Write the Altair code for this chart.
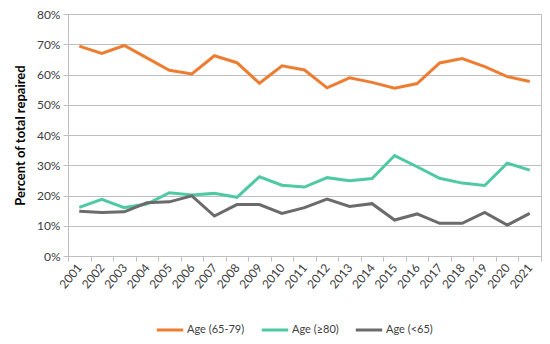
import altair as alt
import pandas as pd

years = [str(y) for y in range(2001, 2022)]
age_65_79 = [69.4, 67.0, 69.6, 65.5, 61.4, 60.2, 66.2, 63.9, 57.1, 62.9, 61.5,
             55.6, 58.9, 57.4, 55.5, 57.0, 63.8, 65.3, 62.6, 59.3, 57.7]
age_80 = [16.1, 18.7, 16.0, 17.2, 20.9, 20.2, 20.7, 19.4, 26.2, 23.4, 22.8,
          25.9, 24.9, 25.6, 33.2, 29.5, 25.7, 24.1, 23.3, 30.7, 28.4]
age_lt65 = [14.8, 14.4, 14.6, 17.6, 17.9, 19.9, 13.2, 17.0, 17.0, 14.1, 16.0,
            18.8, 16.4, 17.3, 11.9, 13.9, 10.8, 10.8, 14.4, 10.2, 14.1]

series_names = ["Age (65-79)", "Age (≥80)", "Age (<65)"]
series_values = [age_65_79, age_80, age_lt65]
colors = ["#ED7D31", "#4FC9A4", "#6B6B6B"]

rows = []
for name, vals in zip(series_names, series_values):
    for y, v in zip(years, vals):
        rows.append({"Year": y, "Series": name, "Value": v / 100})
df = pd.DataFrame(rows)

font = "Lato"
txt = "#404040"
grid = "#BFBFBF"

chart = alt.Chart(df).mark_line(strokeWidth=3).encode(
    x=alt.X("Year:O", sort=years,
            scale=alt.Scale(paddingInner=0, paddingOuter=0),
            axis=alt.Axis(title=None, labelAngle=-50, tickBand="extent",
                          labelAlign="right", labelBaseline="middle",
                          labelFont=font, labelFontSize=12, labelColor=txt,
                          domainColor=grid, tickColor=grid, tickSize=5,
                          labelPadding=4, grid=False)),
    y=alt.Y("Value:Q",
            scale=alt.Scale(domain=[0, 0.8]),
            axis=alt.Axis(title="Percent of total repaired", format=".0%",
                          values=[0, 0.1, 0.2, 0.3, 0.4, 0.5, 0.6, 0.7, 0.8],
                          titleFont=font, titleFontSize=13, titleFontWeight="bold",
                          titleColor="#000000", titlePadding=9,
                          labelFont=font, labelFontSize=12, labelColor=txt,
                          domainColor=grid, tickColor=grid, tickSize=5,
                          gridColor=grid, labelPadding=3)),
    color=alt.Color("Series:N", sort=series_names,
                    scale=alt.Scale(domain=series_names, range=colors),
                    legend=alt.Legend(title=None, orient="none", direction="horizontal",
                                      legendX=87, legendY=301, columns=3,
                                      symbolType="stroke", symbolSize=700,
                                      symbolStrokeWidth=3, columnPadding=10,
                                      labelFont=font, labelFontSize=11, labelColor=txt,
                                      labelOffset=2)),
).properties(
    width=473, height=242,
    padding={"left": 60, "top": 6, "right": 1, "bottom": 80},
    autosize=alt.AutoSizeParams(type="none"),
).configure_view(stroke=grid, strokeWidth=1)

chart.save("out.html", embed_options={"renderer": "svg", "actions": False})
